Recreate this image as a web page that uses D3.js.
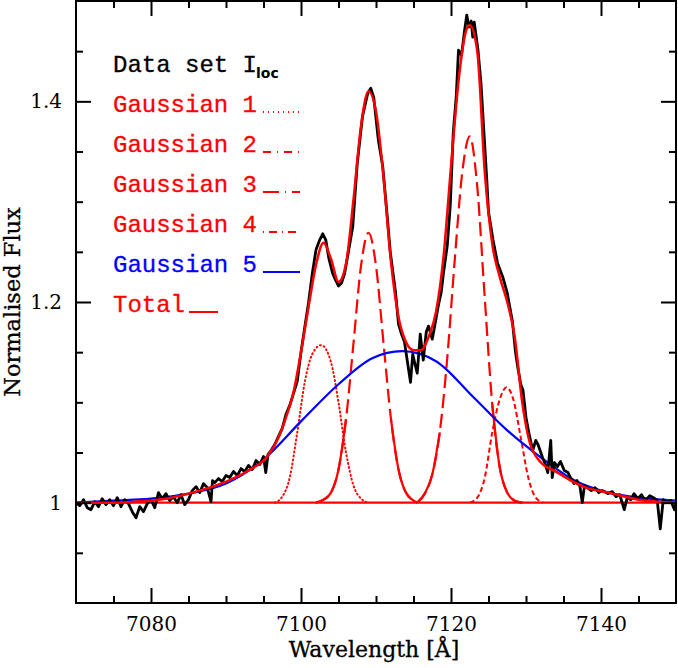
<!DOCTYPE html>
<html>
<head>
<meta charset="utf-8">
<script src="https://cdn.jsdelivr.net/npm/d3@7"></script>
<style>
  body { margin: 0; background: #fff; }
  text { font-family: "DejaVu Serif", serif; }
</style>
</head>
<body>
<div id="chart"></div>
<script>
// observed spectrum (wavelength, normalised flux)
const dataWave = [7070.0,7070.5,7071.0,7071.5,7072.0,7072.5,7073.0,7073.5,7074.0,7074.5,7075.0,7075.5,7076.0,7076.5,7077.0,7077.5,7078.0,7078.5,7079.0,7079.5,
  7080.0,7080.5,7081.0,7081.5,7082.0,7082.5,7083.0,7083.5,7084.0,7084.5,7085.0,7085.5,7086.0,7086.5,7087.0,7087.5,7088.0,7088.2,7088.5,7089.0,
  7089.5,7090.0,7090.5,7091.0,7091.5,7092.0,7092.5,7093.0,7093.5,7094.0,7094.5,7095.0,7095.3,7095.6,7096.0,7096.5,7097.0,7097.5,7098.0,7098.5,
  7099.0,7099.5,7100.0,7100.5,7101.0,7101.5,7102.0,7102.5,7102.9,7103.3,7103.7,7104.2,7104.6,7105.0,7105.4,7105.8,7106.3,7106.9,7107.5,7108.2,
  7108.9,7109.3,7109.7,7110.3,7110.9,7111.5,7111.9,7112.6,7113.0,7113.4,7113.8,7114.3,7114.6,7114.9,7115.2,7115.5,7115.9,7116.3,7116.7,7117.0,
  7117.5,7118.0,7118.3,7118.7,7119.0,7119.5,7119.9,7120.3,7120.7,7121.0,7121.4,7121.8,7122.1,7122.4,7122.7,7122.9,7123.1,7123.6,7124.0,7124.4,
  7124.8,7125.0,7125.6,7126.2,7126.9,7127.5,7128.2,7128.6,7128.9,7129.3,7129.6,7130.0,7130.4,7130.9,7131.3,7131.6,7132.2,7132.6,7132.9,7133.3,
  7133.5,7133.8,7134.2,7134.6,7135.1,7135.6,7136.0,7136.4,7136.8,7137.2,7137.5,7137.8,7138.2,7138.7,7139.2,7139.7,7140.2,7140.9,7141.5,7142.0,
  7142.5,7143.1,7143.5,7144.0,7144.4,7144.9,7145.4,7145.9,7146.5,7147.0,7147.5,7147.9,7148.3,7148.8,7149.3,7149.8,7150.0];
const dataFlux = [1.000,0.997,1.003,0.995,0.993,1.001,0.996,1.004,0.998,1.003,0.997,1.005,0.996,1.003,0.999,0.991,0.985,0.996,0.991,0.999,
  1.003,0.995,1.010,1.004,1.009,1.002,1.006,1.000,1.008,0.998,1.003,1.012,1.016,1.010,1.019,1.015,1.001,1.022,1.020,1.024,
  1.021,1.027,1.025,1.031,1.027,1.034,1.031,1.037,1.033,1.042,1.038,1.046,1.030,1.048,1.052,1.058,1.066,1.074,1.088,1.097,
  1.109,1.121,1.150,1.175,1.199,1.228,1.252,1.262,1.268,1.262,1.244,1.229,1.222,1.216,1.219,1.228,1.249,1.275,1.338,1.385,
  1.408,1.413,1.404,1.362,1.335,1.285,1.250,1.210,1.178,1.168,1.160,1.135,1.120,1.148,1.138,1.129,1.168,1.142,1.170,1.176,
  1.163,1.183,1.196,1.210,1.229,1.256,1.296,1.369,1.405,1.451,1.446,1.470,1.486,1.474,1.480,1.464,1.479,1.451,1.418,1.368,
  1.318,1.290,1.262,1.239,1.225,1.209,1.180,1.150,1.135,1.118,1.112,1.085,1.069,1.052,1.062,1.058,1.045,1.038,1.030,1.062,
  1.025,1.040,1.036,1.041,1.032,1.030,1.024,1.019,1.022,1.016,1.000,1.017,1.015,1.012,1.015,1.010,1.012,1.009,1.011,1.006,
  1.008,0.993,1.005,1.003,1.009,1.004,1.008,1.002,1.007,1.005,1.002,0.974,1.003,1.000,1.002,0.993,1.000];

// total fit
const totalWave = [7070,7075,7078,7082,7086,7090,7093,7095.5,7097,7098,7099,7100,7101,7102,7103,7104,7105,7106,7107,7108,
  7109,7110,7111,7112,7113,7114,7115,7116,7117,7118,7119,7120,7121,7122,7122.5,7123.5,7124.5,7125.5,7126.5,7127.5,
  7128.5,7129.5,7130.5,7132,7134,7136,7138,7141,7145,7150];
const totalFlux = [1.000,1.000,1.001,1.004,1.011,1.021,1.032,1.046,1.065,1.085,1.110,1.150,1.195,1.237,1.259,1.243,1.220,1.238,1.302,1.375,
  1.410,1.390,1.325,1.240,1.185,1.160,1.152,1.152,1.165,1.190,1.245,1.335,1.420,1.470,1.476,1.450,1.330,1.258,1.225,1.200,
  1.165,1.100,1.060,1.040,1.031,1.022,1.015,1.010,1.003,1.000];

// Gaussian 1 (dotted, 7102.7)
const g1Wave = [7096.5,7097.5,7098.5,7099.5,7100.5,7101.5,7102.7,7104,7105,7106,7107,7108,7109];
const g1Flux = [1.000,1.006,1.025,1.070,1.120,1.148,1.157,1.140,1.100,1.050,1.017,1.004,1.000];
// Gaussian 2 (dashed, 7109)
const g2Wave = [7102,7103,7104,7105,7106,7107,7108,7109,7110,7111,7112,7113,7114,7115.5];
const g2Flux = [1.000,1.003,1.010,1.033,1.083,1.159,1.236,1.269,1.236,1.159,1.083,1.033,1.010,1.000];
// Gaussian 3 (dashed, 7122.5)
const g3Wave = [7115.5,7116.5,7117.5,7118.5,7119.5,7120.5,7121.5,7122.5,7123.5,7124.5,7125.5,7126.5,7127.5,7128.5,7129.5];
const g3Flux = [1.000,1.009,1.028,1.070,1.144,1.242,1.329,1.365,1.315,1.204,1.098,1.035,1.010,1.002,1.000];
// Gaussian 4 (short dashes, 7127.4)
const g4Wave = [7122.5,7123.5,7124.5,7125.5,7126.5,7127.4,7128.3,7129.3,7130.3,7131.3,7132.3];
const g4Flux = [1.000,1.005,1.025,1.070,1.103,1.115,1.103,1.065,1.025,1.005,1.000];
// Gaussian 5 (broad, blue)
const g5Wave = [7070,7075,7080,7085,7090,7095,7100,7105,7109.5,7113.5,7118,7123,7127.5,7132,7136.5,7141,7145,7150];
const g5Flux = [1.000,1.002,1.004,1.009,1.019,1.043,1.081,1.118,1.144,1.151,1.141,1.105,1.072,1.045,1.022,1.010,1.005,1.002];

const xMajor = [7080, 7100, 7120, 7140];
const yMajor = [1.0, 1.2, 1.4];

const legendRows = ["Gaussian 1", "Gaussian 2", "Gaussian 3", "Gaussian 4", "Gaussian 5"];

function main() {
  const width = 678, height = 668;
  const margin = {top: 1, right: 2, bottom: 65, left: 76};
  const pw = width - margin.left - margin.right;
  const ph = height - margin.top - margin.bottom;

  const svg = d3.select("#chart").append("svg")
      .attr("width", width)
      .attr("height", height);

  const x = d3.scaleLinear().domain([7070, 7150]).range([margin.left, margin.left + pw]);
  const y = d3.scaleLinear().domain([0.9, 1.5]).range([margin.top + ph, margin.top]);

  const pts = (ws, fs) => ws.map((w, i) => [w, fs[i]]);
  const line = d3.line().x(d => x(d[0])).y(d => y(d[1])).curve(d3.curveMonotoneX);

  const plot = svg.append("g");
  plot.append("clipPath").attr("id", "clip")
    .append("rect").attr("x", margin.left).attr("y", margin.top).attr("width", pw).attr("height", ph);
  const g = plot.append("g").attr("clip-path", "url(#clip)");

  // baseline of the components
  g.append("path")
    .datum([[7070, 1], [7150, 1]])
    .attr("d", line)
    .attr("fill", "none").attr("stroke", "#ff0000").attr("stroke-width", 2.4);

  // Gaussian components
  g.append("path").datum(pts(g1Wave, g1Flux)).attr("d", line)
    .attr("fill", "none").attr("stroke", "#ff0000").attr("stroke-width", 2)
    .attr("stroke-dasharray", "1,3").attr("stroke-linecap", "round");

  [pts(g2Wave, g2Flux), pts(g3Wave, g3Flux)].forEach(p => {
    g.append("path").datum(p).attr("d", line)
      .attr("fill", "none").attr("stroke", "#ff0000").attr("stroke-width", 2.2)
      .attr("stroke-dasharray", "14,6");
    // the wings show up as a full line
    g.append("path").datum(p).attr("d", line.defined(d => d[1] < 1.1))
      .attr("fill", "none").attr("stroke", "#ff0000").attr("stroke-width", 2.2);
    line.defined(() => true);
  });

  g.append("path").datum(pts(g4Wave, g4Flux)).attr("d", line)
    .attr("fill", "none").attr("stroke", "#ff0000").attr("stroke-width", 2)
    .attr("stroke-dasharray", "5,3");

  g.append("path").datum(pts(g5Wave, g5Flux)).attr("d", line)
    .attr("fill", "none").attr("stroke", "#0000ff").attr("stroke-width", 2.2);

  // data
  g.append("path").datum(pts(dataWave, dataFlux))
    .attr("d", d3.line().x(d => x(d[0])).y(d => y(d[1])))
    .attr("fill", "none").attr("stroke", "#000").attr("stroke-width", 2.8)
    .attr("stroke-linejoin", "round");

  // total
  g.append("path").datum(pts(totalWave, totalFlux)).attr("d", line)
    .attr("fill", "none").attr("stroke", "#ff0000").attr("stroke-width", 2.5);

  // axes: ticks inside on all four sides
  const xMinor = d3.range(7075, 7150, 5).filter(v => !xMajor.includes(v));
  const yMinor = d3.range(0.95, 1.5, 0.05).map(v => +v.toFixed(2)).filter(v => !yMajor.includes(v));

  const axisStyle = sel => {
    sel.select(".domain").remove();
    sel.selectAll("line").attr("stroke", "#000").attr("stroke-width", 2);
    sel.selectAll("text").attr("fill", "#000").style("font-family", "'DejaVu Serif', serif").style("font-size", "20px");
  };

  svg.append("g").attr("transform", `translate(0,${margin.top + ph})`)
    .call(d3.axisBottom(x).tickValues(xMajor).tickSize(-15).tickPadding(14).tickFormat(d3.format("d")))
    .call(axisStyle);
  svg.append("g").attr("transform", `translate(0,${margin.top + ph})`)
    .call(d3.axisBottom(x).tickValues(xMinor).tickSize(-7).tickFormat(""))
    .call(axisStyle);
  svg.append("g").attr("transform", `translate(0,${margin.top})`)
    .call(d3.axisTop(x).tickValues(xMajor).tickSize(-15).tickFormat(""))
    .call(axisStyle);
  svg.append("g").attr("transform", `translate(0,${margin.top})`)
    .call(d3.axisTop(x).tickValues(xMinor).tickSize(-7).tickFormat(""))
    .call(axisStyle);

  svg.append("g").attr("transform", `translate(${margin.left},0)`)
    .call(d3.axisLeft(y).tickValues(yMajor).tickSize(-15).tickPadding(14)
      .tickFormat(d => d === 1 ? "1" : d3.format(".1f")(d)))
    .call(axisStyle);
  svg.append("g").attr("transform", `translate(${margin.left},0)`)
    .call(d3.axisLeft(y).tickValues(yMinor).tickSize(-7).tickFormat(""))
    .call(axisStyle);
  svg.append("g").attr("transform", `translate(${margin.left + pw},0)`)
    .call(d3.axisRight(y).tickValues(yMajor).tickSize(-15).tickFormat(""))
    .call(axisStyle);
  svg.append("g").attr("transform", `translate(${margin.left + pw},0)`)
    .call(d3.axisRight(y).tickValues(yMinor).tickSize(-7).tickFormat(""))
    .call(axisStyle);

  svg.append("rect")
    .attr("x", margin.left).attr("y", margin.top)
    .attr("width", pw).attr("height", ph)
    .attr("fill", "none").attr("stroke", "#000").attr("stroke-width", 2);

  // axis titles
  svg.append("text")
    .attr("x", 374).attr("y", 657)
    .attr("text-anchor", "middle")
    .attr("stroke", "#000").attr("stroke-width", 0.3)
    .style("font-size", "22px")
    .text("Wavelength [Å]");
  svg.append("text")
    .attr("transform", `translate(20,302) rotate(-90)`)
    .attr("text-anchor", "middle")
    .attr("stroke", "#000").attr("stroke-width", 0.3)
    .style("font-size", "22.5px")
    .text("Normalised Flux");

  // legend
  const lg = svg.append("g").style("font-family", "'Liberation Mono', monospace").style("font-size", "24px");
  const lx = 113, ly0 = 72, dy = 40;

  lg.append("text").attr("x", lx).attr("y", ly0).attr("fill", "#000")
    .style("font-family", "'Liberation Mono', monospace")
    .attr("stroke", "#000").attr("stroke-width", 0.3)
    .text("Data set I");
  lg.append("text").attr("x", 256).attr("y", ly0 + 6)
    .style("font-family", "'DejaVu Sans', sans-serif").style("font-size", "14px").style("font-weight", "bold")
    .text("loc");

  const dashes = ["1,4", "8,6,1,6", "16,6,1,6", "1,5,8,5", null];
  legendRows.forEach((name, i) => {
    const yy = ly0 + dy * (i + 1);
    const col = i === 4 ? "#0000ff" : "#ff0000";
    lg.append("text").attr("x", lx).attr("y", yy).attr("fill", col)
      .style("font-family", "'Liberation Mono', monospace")
      .attr("stroke", col).attr("stroke-width", 0.3)
      .text(name);
    const l = lg.append("line").attr("x1", 263).attr("x2", 300).attr("y1", yy).attr("y2", yy)
      .attr("stroke", col).attr("stroke-width", 2);
    if (dashes[i]) l.attr("stroke-dasharray", dashes[i]);
  });
  const yt = ly0 + dy * 6;
  lg.append("text").attr("x", lx).attr("y", yt).attr("fill", "#ff0000")
    .style("font-family", "'Liberation Mono', monospace")
    .attr("stroke", "#ff0000").attr("stroke-width", 0.3)
    .text("Total");
  lg.append("line").attr("x1", 189).attr("x2", 218).attr("y1", yt).attr("y2", yt)
    .attr("stroke", "#ff0000").attr("stroke-width", 2);
}

main();
</script>
</body>
</html>
